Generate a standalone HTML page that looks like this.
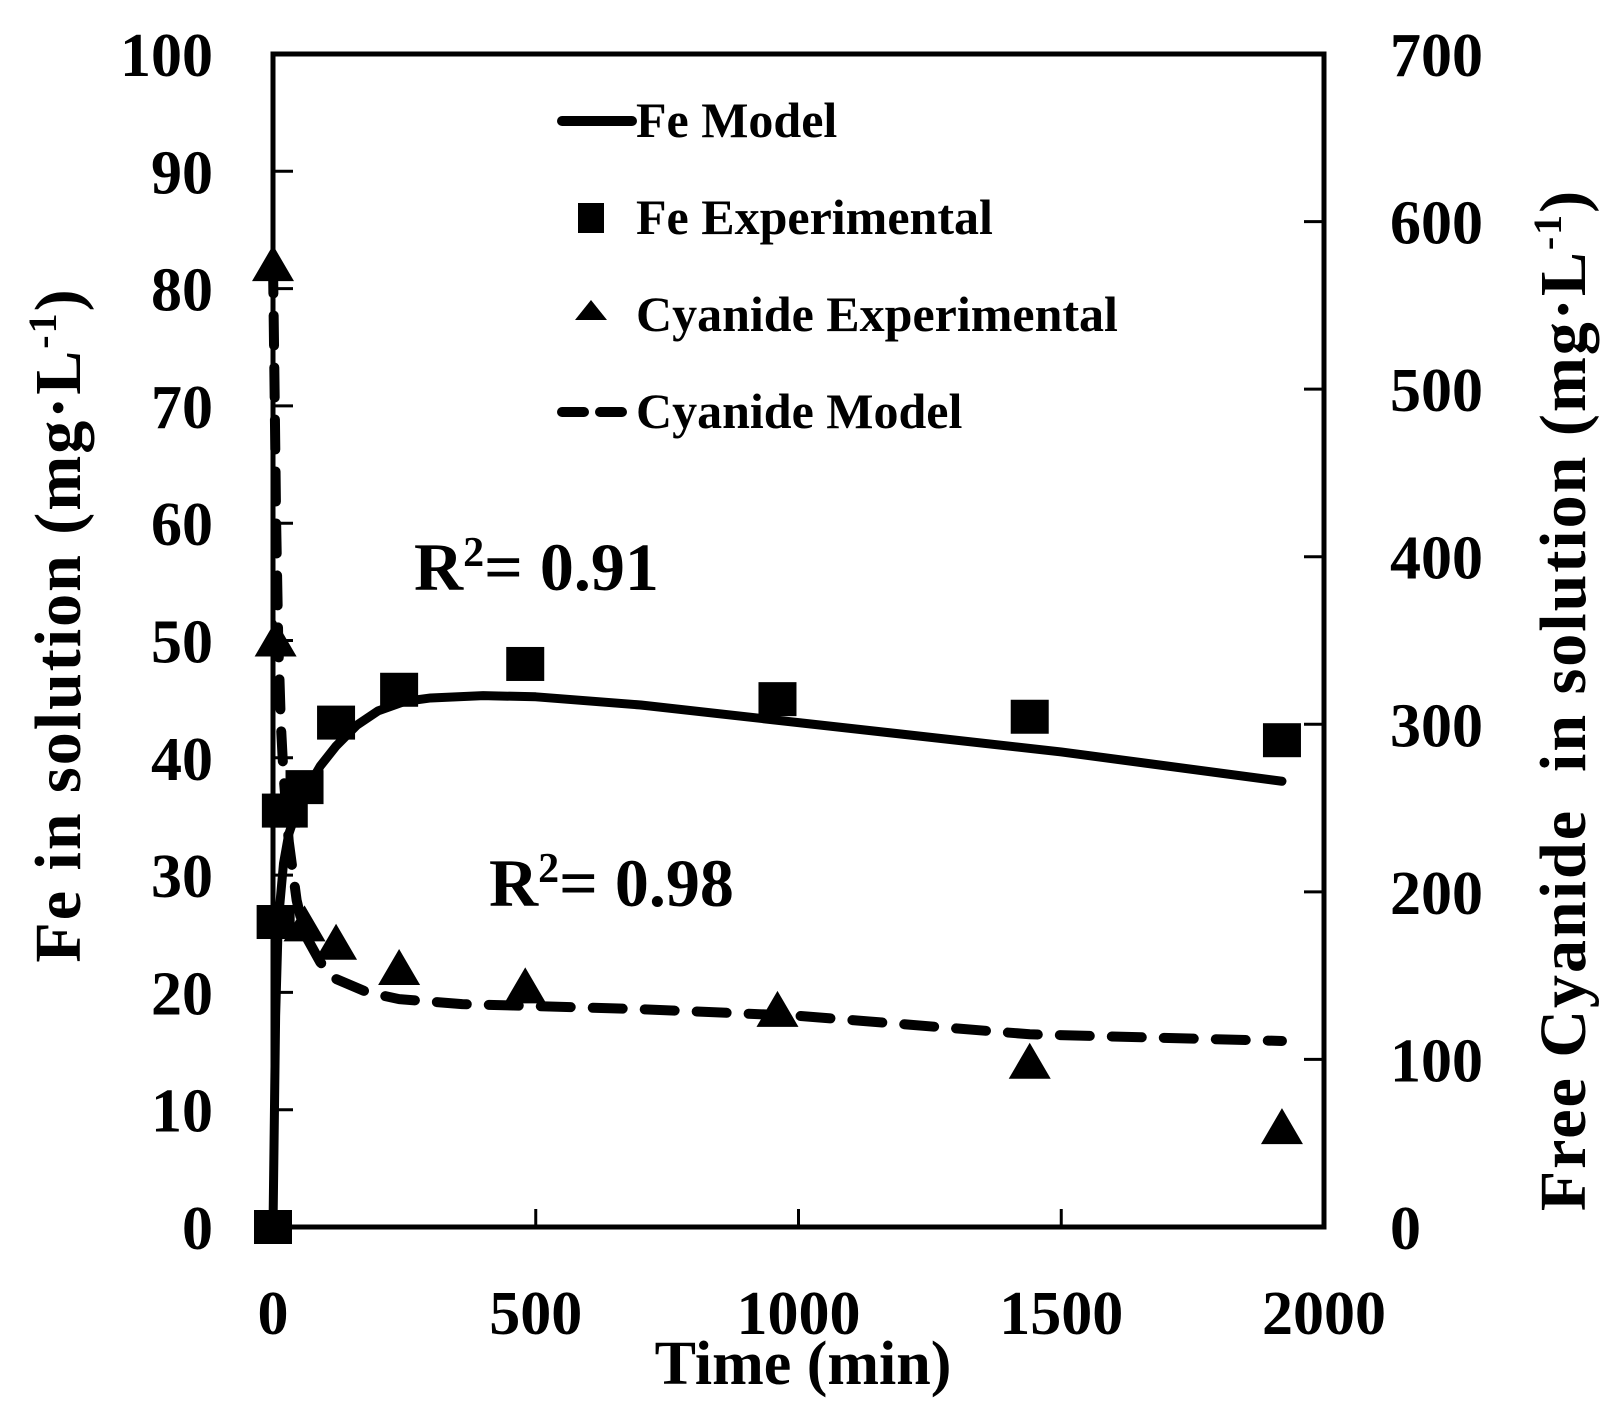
<!DOCTYPE html>
<html><head><meta charset="utf-8"><style>
html,body{margin:0;padding:0;background:#fff;}
svg{display:block;font-family:"Liberation Serif",serif;font-weight:bold;}
</style></head><body>
<svg id="chart" width="1617" height="1411" viewBox="0 0 1617 1411" xmlns="http://www.w3.org/2000/svg">
<g id="axes"></g>
<g id="series"></g>
<g id="legend">
  <line x1="562" y1="121" x2="632" y2="121" stroke="#000" stroke-width="10" stroke-linecap="round"/>
  <text x="636" y="137" font-size="50">Fe Model</text>
  <rect x="578" y="203" width="26" height="30" fill="#000"/>
  <text x="636" y="234" font-size="50">Fe Experimental</text>
  <polygon points="591,300 575,320 607,320" fill="#000"/>
  <text x="636" y="331" font-size="50">Cyanide Experimental</text>
  <line x1="562" y1="412" x2="632" y2="412" stroke="#000" stroke-width="10" stroke-linecap="round" stroke-dasharray="22,16"/>
  <text x="636" y="428" font-size="50">Cyanide Model</text>
</g>
<text x="414" y="590" font-size="68">R<tspan font-size="42" dy="-24">2</tspan><tspan dy="24">= 0.91</tspan></text>
<text x="489" y="906" font-size="68">R<tspan font-size="42" dy="-24">2</tspan><tspan dy="24">= 0.98</tspan></text>
<text x="803" y="1384" font-size="62" text-anchor="middle">Time (min)</text>
<text transform="translate(80,625) rotate(-90)" font-size="66" letter-spacing="2" text-anchor="middle" xml:space="preserve">Fe in solution (mg·L<tspan font-size="40" dy="-24">-1</tspan><tspan dy="24">)</tspan></text>
<text transform="translate(1585,700) rotate(-90)" font-size="66" letter-spacing="2" text-anchor="middle" xml:space="preserve">Free Cyanide  in solution (mg·L<tspan font-size="40" dy="-24">-1</tspan><tspan dy="24">)</tspan></text>
</svg>
<script>
const xTicks=[0,500,1000,1500,2000];
const leftTicks=[0,10,20,30,40,50,60,70,80,90,100];
const rightTicks=[0,100,200,300,400,500,600,700];
const feExpTime=[0,5,15,30,60,120,240,480,960,1440,1920];
const feExpVal=[0,26,35.5,35.5,37.5,43,45.8,48,45,43.5,41.5];
const cnExpTime=[0,5,15,60,120,240,480,960,1440,1920];
const cnExpVal=[574,350,182,180,169,154,143,129,98,59];
const feModelTime=[0,5,10,20,30,45,60,90,120,160,200,250,300,400,500,700,1000,1500,1920];
const feModelVal=[0,18,26,31,33.5,35.5,37,39.3,41,42.8,44,44.8,45.1,45.3,45.2,44.5,43,40.5,38];
const cnModelTime=[0,3,6,10,15,20,30,45,60,90,120,180,240,360,480,700,1000,1440,1920];
const cnModelVal=[575,500,420,350,300,270,230,195,175,158,148,140,136,133,132,130,126,115,111];
const NS="http://www.w3.org/2000/svg";
const X0=273,X1=1324,Y0=1227,Y1=54;
function xs(v){return X0+(v-0)/2000*(X1-X0);}
function yl(v){return Y0-v/100*(Y0-Y1);}
function yr(v){return Y0-v/700*(Y0-Y1);}
function mk(tag,attrs,parent){const e=document.createElementNS(NS,tag);for(const k in attrs)e.setAttribute(k,attrs[k]);parent.appendChild(e);return e;}
const axes=document.getElementById('axes'),series=document.getElementById('series');
let frame=mk('rect',{x:X0,y:Y1,width:X1-X0,height:Y0-Y1,fill:'none',stroke:'#000','stroke-width':5},axes);


xTicks.forEach(t=>{
  let l=mk('line',{x1:xs(t),y1:Y0,x2:xs(t),y2:Y0-18,stroke:'#000','stroke-width':3},axes);
  
  
  let tx=mk('text',{x:xs(t),y:1334,'font-size':62,'text-anchor':'middle'},axes);tx.textContent=t;
  
  
});
leftTicks.forEach(t=>{
  let l=mk('line',{x1:X0,y1:yl(t),x2:X0+20,y2:yl(t),stroke:'#000','stroke-width':3},axes);
  
  
  let tx=mk('text',{x:213,y:yl(t)+22,'font-size':62,'text-anchor':'end'},axes);tx.textContent=t;
  
  
});
rightTicks.forEach(t=>{
  let l=mk('line',{x1:X1,y1:yr(t),x2:X1-20,y2:yr(t),stroke:'#000','stroke-width':3},axes);
  
  
  let tx=mk('text',{x:1390,y:yr(t)+22,'font-size':62,'text-anchor':'start'},axes);tx.textContent=t;
  
  
});
let fp=feModelTime.map((t,i)=>xs(t)+','+yl(feModelVal[i])).join(' ');
let feLine=mk('polyline',{points:fp,fill:'none',stroke:'#000','stroke-width':9,'stroke-linejoin':'round','stroke-linecap':'round'},series);


let cp=cnModelTime.map((t,i)=>xs(t)+','+yr(cnModelVal[i])).join(' ');
let cnLine=mk('polyline',{points:cp,fill:'none',stroke:'#000','stroke-width':10,'stroke-dasharray':'30,22','stroke-linecap':'round','stroke-linejoin':'round'},series);


feExpTime.forEach((t,i)=>{
  let r=mk('rect',{x:xs(t)-19,y:yl(feExpVal[i])-17,width:38,height:34,fill:'#000'},series);
  
  
});
cnExpTime.forEach((t,i)=>{
  const cx=xs(t),cy=yr(cnExpVal[i]);
  let p=mk('polygon',{points:`${cx},${cy-20} ${cx-21},${cy+16} ${cx+21},${cy+16}`,fill:'#000'},series);
  
  
});
</script>
</body></html>
